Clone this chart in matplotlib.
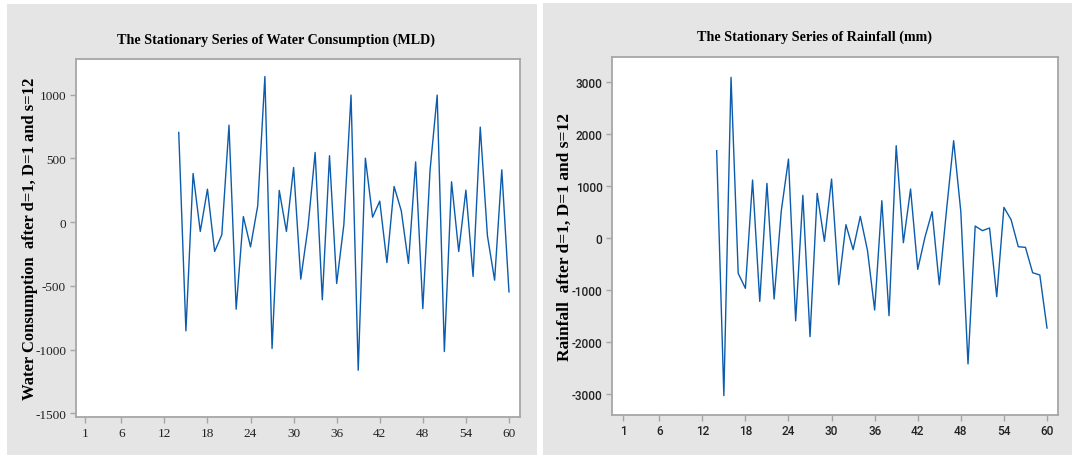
import numpy as np
import matplotlib
matplotlib.use("Agg")
import matplotlib.pyplot as plt
from matplotlib.patches import Rectangle

plt.rcParams['axes.unicode_minus'] = False

# DATA
t = list(range(14, 61))
water = [704, -853, 382, -73, 259, -230, -99, 761, -683, 44,
         -194, 128, 1143, -991, 249, -73, 429, -447, -42, 547,
         -609, 521, -481, -20, 997, -1162, 502, 39, 165, -317,
         280, 89, -324, 473, -678, 403, 997, -1015, 317, -230,
         251, -426, 746, -107, -455, 411, -547]
rain = [1675, -3032, 3084, -682, -970, 1111, -1220, 1047, -1175, 522,
        1514, -1594, 817, -1899, 855, -67, 1130, -900, 253, -227,
        413, -240, -1386, 714, -1495, 1771, -93, 938, -605, 10,
        503, -900, 522, 1867, 500, -2423, 227, 138, 189, -1130,
        586, 349, -170, -183, -670, -714, -1733]
xticks = [1, 6, 12, 18, 24, 30, 36, 42, 48, 54, 60]

line_col = '#0b5cad'
frame_col = '#a6a6a6'
panel_col = '#e5e5e5'

fig = plt.figure(figsize=(10.72, 4.56), dpi=100)
fig.patch.set_facecolor('white')

# gray panels behind the axes
fig.patches.append(Rectangle((7/1072, 0), 530/1072, 451/456, transform=fig.transFigure,
                             facecolor=panel_col, edgecolor='none', zorder=-10))
fig.patches.append(Rectangle((543/1072, 0), 529/1072, 452/456, transform=fig.transFigure,
                             facecolor=panel_col, edgecolor='none', zorder=-10))

ax1 = fig.add_axes([0.0707, 0.0833, 0.4148, 0.785])
ax2 = fig.add_axes([0.5712, 0.0884, 0.4162, 0.7837])

serif = ['Liberation Serif', 'DejaVu Serif']
sans = ['Roboto', 'Liberation Sans', 'DejaVu Sans']

def style(ax, tickfont, weight, size):
    ax.set_facecolor('white')
    for s in ax.spines.values():
        s.set_color(frame_col)
        s.set_linewidth(1.3)
    ax.tick_params(direction='out', length=4, width=1, color=frame_col,
                   labelsize=size, labelcolor='#222222', pad=3)
    ax.set_xticks(xticks)
    for lab in ax.get_xticklabels() + ax.get_yticklabels():
        lab.set_fontfamily(tickfont)
        lab.set_fontweight(weight)

ax1.plot(t, water, color=line_col, lw=1.0)
ax1.set_xlim(-0.34, 61.6)
ax1.set_ylim(-1529, 1280)
ax1.set_yticks([-1500, -1000, -500, 0, 500, 1000])
style(ax1, serif, 'normal', 9.5)

ax2.plot(t, rain, color=line_col, lw=1.0)
ax2.set_xlim(-0.53, 61.6)
ax2.set_ylim(-3398, 3469)
ax2.set_yticks([-3000, -2000, -1000, 0, 1000, 2000, 3000])
style(ax2, sans, 'medium', 8.5)

fig.text(276/1072, 1 - 40/456, 'The Stationary Series of Water Consumption (MLD)',
         ha='center', va='center', fontsize=10.2, fontweight='bold', family=serif)
fig.text(814/1072, 1 - 37/456, 'The Stationary Series of Rainfall (mm)',
         ha='center', va='center', fontsize=10.2, fontweight='bold', family=serif)

fig.text(30/1072, 1 - 239/456, 'Water Consumption  after d=1, D=1 and s=12',
         ha='center', va='center', rotation=90, fontsize=12, fontweight='bold', family=serif)
fig.text(565/1072, 1 - 237/456, 'Rainfall  after d=1, D=1 and s=12',
         ha='center', va='center', rotation=90, fontsize=12.5, fontweight='bold', family=serif)

fig.savefig('out.png', dpi=100)
